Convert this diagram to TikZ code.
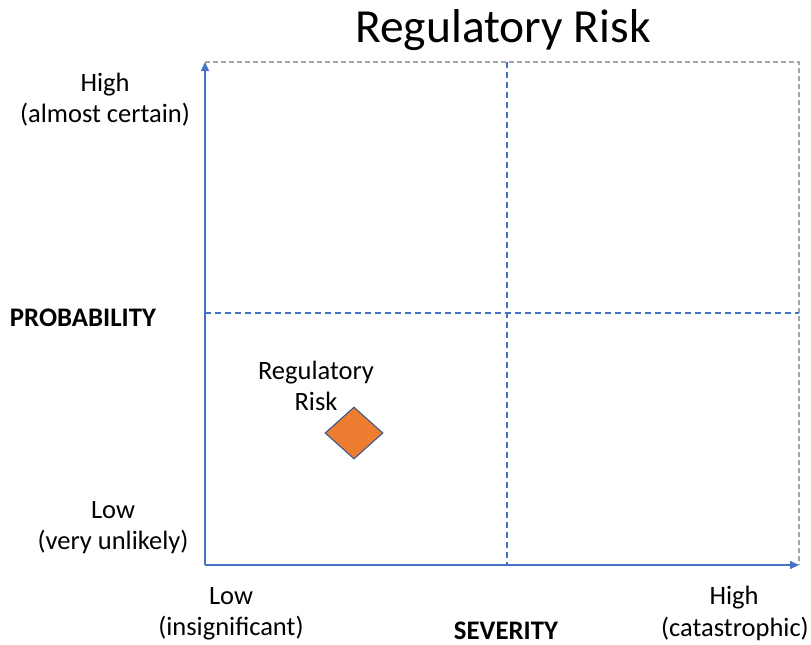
\documentclass[tikz,border=0pt]{standalone}
\usepackage{fontspec}
\setmainfont{Carlito}
\usetikzlibrary{arrows.meta,shapes.geometric}
\definecolor{axisblue}{HTML}{4472C4}
\definecolor{boxgray}{HTML}{A6A6A6}
\definecolor{riskorange}{HTML}{ED7D31}
\definecolor{edgeblue}{HTML}{2F528F}
\tikzset{
  lbl/.style={font=\fontsize{26.5}{31}\selectfont, align=center, inner sep=0pt},
  axlbl/.style={font=\fontsize{26.8}{30}\selectfont\bfseries, inner sep=0pt},
  gridline/.style={draw=axisblue, line width=1.2pt, dash pattern=on 6pt off 4pt},
  outline/.style={draw=boxgray, line width=1.4pt, dash pattern=on 5pt off 3pt},
  axis/.style={draw=axisblue, line width=1.5pt, -{Triangle[length=9pt,width=8pt]}}
}
\begin{document}
\begin{tikzpicture}[x=1pt,y=-1pt]
\useasboundingbox (0,0) rectangle (811,645);
% corners
\coordinate (o) at (205,565);
\coordinate (tl) at (205,62);
\coordinate (tr) at (799,62);
\coordinate (br) at (799,565);
\coordinate (mt) at (507,62);
\coordinate (mb) at (507,565);
\coordinate (ml) at (205,313);
\coordinate (mr) at (799,313);
% outline
\draw[outline] (tl) -- (tr) -- (br);
% grid lines
\draw[gridline] (mt) -- (mb);
\draw[gridline] (ml) -- (mr);
% axes
\draw[axis] (o) -- (tl);
\draw[axis] (o) -- (br);
% title
\node[font=\fontsize{47.5}{56}\selectfont, inner sep=0pt] (title) at (503,30) {Regulatory Risk};
% labels
\node[lbl] (yhigh) at (105,100) {High\\(almost certain)};
\node[axlbl] (prob) at (83,318) {PROBABILITY};
\node[lbl] (ylow) at (113,528) {Low\\(very unlikely)};
\node[lbl] (xlow) at (231,614) {Low\\(insignificant)};
\node[axlbl] (sev) at (506,631) {SEVERITY};
\node[lbl] (xhigh) at (734,598) {High};
\node[lbl, anchor=east] (xhighsub) at (809,629) {(catastrophic)};
% risk item
\node[diamond, fill=riskorange, draw=edgeblue, line width=1pt, minimum width=58pt, minimum height=52pt, inner sep=0pt] (risk) at (354,433) {};
\node[lbl] (risklbl) at (316,386) {Regulatory\\Risk};
\end{tikzpicture}
\end{document}
